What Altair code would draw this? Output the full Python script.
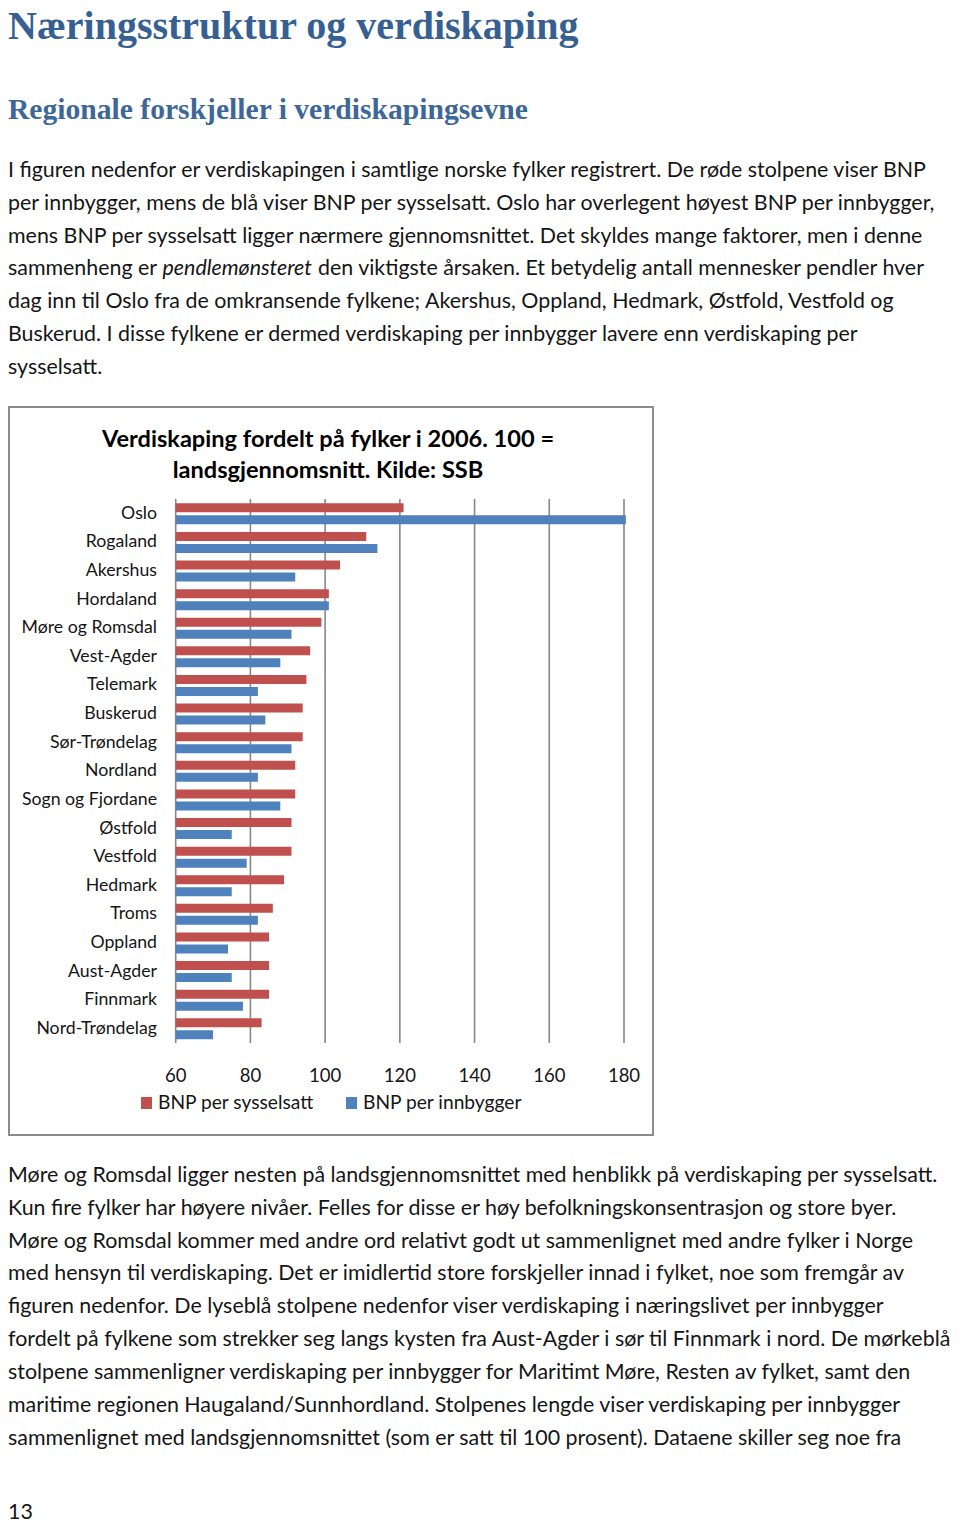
import altair as alt
import pandas as pd

# ---------------- data ----------------
counties = ["Oslo", "Rogaland", "Akershus", "Hordaland", "Møre og Romsdal", "Vest-Agder",
            "Telemark", "Buskerud", "Sør-Trøndelag", "Nordland", "Sogn og Fjordane",
            "Østfold", "Vestfold", "Hedmark", "Troms", "Oppland", "Aust-Agder",
            "Finnmark", "Nord-Trøndelag"]
bnp_sysselsatt = [121, 111, 104, 101, 99, 96, 95, 94, 94, 92, 92, 91, 91, 89, 86, 85, 85, 85, 83]
bnp_innbygger = [180.5, 114, 92, 101, 91, 88, 82, 84, 91, 82, 88, 75, 79, 75, 82, 74, 75, 78, 70]
series_names = ["BNP per sysselsatt", "BNP per innbygger"]
series_colors = ["#C0504D", "#4F81BD"]
x_ticks = [60, 80, 100, 120, 140, 160, 180]

heading1 = "Næringsstruktur og verdiskaping"
heading2 = "Regionale forskjeller i verdiskapingsevne"
chart_title = ["Verdiskaping fordelt på fylker i 2006. 100 =", "landsgjennomsnitt. Kilde: SSB"]
para1 = [
    "I figuren nedenfor er verdiskapingen i samtlige norske fylker registrert. De røde stolpene viser BNP",
    "per innbygger, mens de blå viser BNP per sysselsatt. Oslo har overlegent høyest BNP per innbygger,",
    "mens BNP per sysselsatt ligger nærmere gjennomsnittet. Det skyldes mange faktorer, men i denne",
    None,
    "dag inn til Oslo fra de omkransende fylkene; Akershus, Oppland, Hedmark, Østfold, Vestfold og",
    "Buskerud. I disse fylkene er dermed verdiskaping per innbygger lavere enn verdiskaping per",
    "sysselsatt.",
]
para1_line4 = ["sammenheng er", "pendlemønsteret", "den viktigste årsaken. Et betydelig antall mennesker pendler hver"]
para2 = [
    "Møre og Romsdal ligger nesten på landsgjennomsnittet med henblikk på verdiskaping per sysselsatt.",
    "Kun fire fylker har høyere nivåer. Felles for disse er høy befolkningskonsentrasjon og store byer.",
    "Møre og Romsdal kommer med andre ord relativt godt ut sammenlignet med andre fylker i Norge",
    "med hensyn til verdiskaping. Det er imidlertid store forskjeller innad i fylket, noe som fremgår av",
    "figuren nedenfor.  De lyseblå stolpene nedenfor viser verdiskaping i næringslivet per innbygger",
    "fordelt på fylkene som strekker seg langs kysten fra Aust-Agder i sør til Finnmark i nord. De mørkeblå",
    "stolpene sammenligner verdiskaping per innbygger for Maritimt Møre, Resten av fylket, samt den",
    "maritime regionen Haugaland/Sunnhordland. Stolpenes lengde viser verdiskaping per innbygger",
    "sammenlignet med landsgjennomsnittet (som er satt til 100 prosent).  Dataene skiller seg noe fra",
]
page_number = "13"

# ---------------- tables ----------------
rows = []
for c, s, i in zip(counties, bnp_sysselsatt, bnp_innbygger):
    rows.append({"fylke": c, "serie": series_names[0], "verdi": s})
    rows.append({"fylke": c, "serie": series_names[1], "verdi": i})
bars_df = pd.DataFrame(rows)
labels_df = pd.DataFrame({"fylke": counties})
ticks_df = pd.DataFrame({"t": x_ticks})

OFF = 8  # page margin
BODY_FONT = "Lato"
BODY_SIZE = 21.4
TEXT_COLOR = "#151515"

xscale = alt.Scale(domain=[60, 180], range=[175.7 - OFF, 624 - OFF], zero=False, nice=False)
yscale = alt.Scale(domain=counties, range=[499.5 - OFF, 1043.1 - OFF],
                   paddingInner=0.266, paddingOuter=0.133)

layers = []

# chart frame
frame = alt.Chart(pd.DataFrame({"a": [0]})).mark_rect(
    fill="white", stroke="#8c8c8c", strokeWidth=2
).encode(x=alt.value(1), x2=alt.value(653 - OFF), y=alt.value(407 - OFF), y2=alt.value(1135 - OFF))
layers.append(frame)

# gridlines
grid = alt.Chart(ticks_df).mark_rule(color="#878787", strokeWidth=1.6).encode(
    x=alt.X("t:Q", scale=xscale, axis=None),
    y=alt.value(499 - OFF), y2=alt.value(1043 - OFF)
)
layers.append(grid)

# bars
bars = alt.Chart(bars_df).mark_bar().encode(
    x=alt.X("verdi:Q", scale=xscale, axis=None),
    x2=alt.datum(60),
    y=alt.Y("fylke:N", scale=yscale, axis=None, sort=counties),
    yOffset=alt.YOffset("serie:N", sort=series_names,
                        scale=alt.Scale(domain=series_names, paddingInner=0.25, paddingOuter=0)),
    color=alt.Color("serie:N", scale=alt.Scale(domain=series_names, range=series_colors), legend=None),
)
layers.append(bars)

# county labels
lab = alt.Chart(labels_df).mark_text(
    align="right", baseline="middle", font=BODY_FONT, fontSize=17.7, color=TEXT_COLOR
).encode(
    x=alt.value(157 - OFF),
    y=alt.Y("fylke:N", scale=yscale, axis=None, sort=counties),
    text="fylke:N",
)
layers.append(lab)

# x tick labels
tl = alt.Chart(ticks_df).mark_text(
    align="center", baseline="middle", font=BODY_FONT, fontSize=18.5, color=TEXT_COLOR
).encode(x=alt.X("t:Q", scale=xscale, axis=None), y=alt.value(1076 - OFF), text="t:Q")
layers.append(tl)

# legend
for name, col, sx, tx in [(series_names[0], series_colors[0], 141, 158),
                          (series_names[1], series_colors[1], 346, 363)]:
    d = pd.DataFrame({"t": [name]})
    layers.append(alt.Chart(d).mark_rect(fill=col).encode(
        x=alt.value(sx - OFF), x2=alt.value(sx + 11 - OFF),
        y=alt.value(1097 - OFF), y2=alt.value(1109 - OFF)))
    layers.append(alt.Chart(d).mark_text(
        align="left", baseline="middle", font=BODY_FONT, fontSize=19.2, color=TEXT_COLOR
    ).encode(x=alt.value(tx - OFF), y=alt.value(1103 - OFF), text="t:N"))


def text_layer(s, x, y, size=BODY_SIZE, font=BODY_FONT, weight="normal", style="normal",
               color=TEXT_COLOR, align="left", baseline="middle"):
    return alt.Chart(pd.DataFrame({"t": [s]})).mark_text(
        align=align, baseline=baseline, font=font, fontSize=size, fontWeight=weight,
        fontStyle=style, color=color
    ).encode(x=alt.value(x), y=alt.value(y), text="t:N")


# chart title
layers.append(text_layer(chart_title[0], 328 - OFF, 440 - OFF, size=23.6, weight="bold",
                         align="center", color="#000000"))
layers.append(text_layer(chart_title[1], 328 - OFF, 471 - OFF, size=23.6, weight="bold",
                         align="center", color="#000000"))

# headings
layers.append(text_layer(heading1, 0, 39 - OFF, size=40, font="Liberation Serif", weight="bold",
                         color="#376092", baseline="alphabetic"))
layers.append(text_layer(heading2, 0, 119 - OFF, size=29.6, font="Liberation Serif", weight="bold",
                         color="#3d6798", baseline="alphabetic"))

# paragraph 1
y0, lh = 171, 32.83
for i, line in enumerate(para1):
    yy = y0 + i * lh - OFF
    if line is None:
        layers.append(text_layer(para1_line4[0], 0, yy))
        layers.append(text_layer(para1_line4[1], 162.5 - OFF, yy, style="italic"))
        layers.append(text_layer(para1_line4[2], 318 - OFF, yy))
    else:
        layers.append(text_layer(line, 0, yy))

# paragraph 2
y0 = 1176
for i, line in enumerate(para2):
    layers.append(text_layer(line, 0, y0 + i * lh - OFF))

layers.append(text_layer(page_number, 0, 1519 - OFF, baseline="alphabetic"))

chart = alt.layer(*layers).properties(
    width=944, height=1516,
    autosize=alt.AutoSizeParams(type="none"),
    padding=0,
).configure_view(stroke=None)

chart.save("out.html", embed_options={"renderer": "svg", "actions": False})
